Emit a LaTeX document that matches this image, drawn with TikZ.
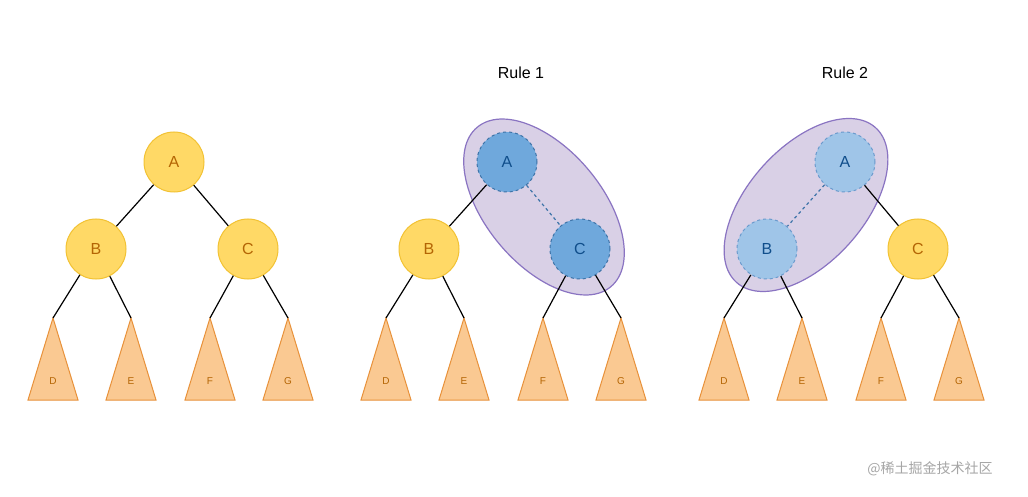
\documentclass[tikz,border=0pt]{standalone}
\usepackage{fontspec}
\setmainfont{Liberation Sans}
\newfontfamily\cjk{Noto Sans CJK SC}
\begin{document}
\begin{tikzpicture}[x=1pt,y=-1pt,
  yel/.style={circle,minimum size=60pt,inner sep=0pt,fill=yfill,draw=ystroke,line width=1pt,text=ytext,font=\fontsize{16}{16}\selectfont},
  bluedark/.style={circle,minimum size=60pt,inner sep=0pt,fill=bdark,draw=bstroke,line width=1pt,dashed,text=btext,font=\fontsize{16}{16}\selectfont},
  bluelight/.style={circle,minimum size=60pt,inner sep=0pt,fill=blight,draw=bstroke2,line width=1pt,dashed,text=btext,font=\fontsize{16}{16}\selectfont},
  tri/.style={fill=tfill,draw=tstroke,line width=1pt,line join=miter},
  edge/.style={line width=1.2pt,black},
  dedge/.style={line width=1.2pt,bstroke,dashed},
  blob/.style={fill=pfill,draw=pstroke,line width=1.2pt},
  tlab/.style={text=ytext,font=\fontsize{10}{10}\selectfont},
  rule/.style={font=\fontsize{16}{16}\selectfont}]
\definecolor{yfill}{HTML}{FFD966}
\definecolor{ystroke}{HTML}{F2C233}
\definecolor{ytext}{HTML}{B46504}
\definecolor{tfill}{HTML}{FAC992}
\definecolor{tstroke}{HTML}{E8913A}
\definecolor{bdark}{HTML}{6FA8DC}
\definecolor{blight}{HTML}{9FC5E8}
\definecolor{bstroke}{HTML}{3D73A8}
\definecolor{bstroke2}{HTML}{6A9ACD}
\definecolor{btext}{HTML}{104E8B}
\definecolor{pfill}{HTML}{D9D0E6}
\definecolor{pstroke}{HTML}{8A74C2}
\useasboundingbox (0,0) rectangle (1028,497);
\fill[white] (0,0) rectangle (1028,497);
% blobs
\draw[blob] (544,207) ellipse[x radius=104, y radius=58, rotate=-50];
\draw[blob] (806,205) ellipse[x radius=104, y radius=58, rotate=48];
% titles
\node[rule] (r1) at (521,73) {Rule 1};
\node[rule] (r2) at (845,73) {Rule 2};
% trees
\foreach \o/\t in {0/1,333/2,671/3}{
  \foreach \n/\x in {D/53,E/131,F/210,G/288}{
    \coordinate (\n\t) at (\o+\x,318);
    \draw[tri] (\n\t) -- ++(25,82) -- ++(-50,0) -- cycle;
    \node[tlab] (l\n\t) at (\o+\x,381) {\n};
  }
}
% tree 1
\node[yel] (A1) at (174,162) {A};
\node[yel] (B1) at (96,249) {B};
\node[yel] (C1) at (248,249) {C};
% tree 2
\node[bluedark] (A2) at (507,162) {A};
\node[yel] (B2) at (429,249) {B};
\node[bluedark] (C2) at (580,249) {C};
% tree 3
\node[bluelight] (A3) at (845,162) {A};
\node[bluelight] (B3) at (767,249) {B};
\node[yel] (C3) at (918,249) {C};
\foreach \t in {1,2,3}{
  \draw[edge] (B\t) -- (D\t);
  \draw[edge] (B\t) -- (E\t);
  \draw[edge] (C\t) -- (F\t);
  \draw[edge] (C\t) -- (G\t);
}
\draw[edge] (A1) -- (B1);
\draw[edge] (A1) -- (C1);
\draw[edge] (A2) -- (B2);
\draw[dedge] (A2) -- (C2);
\draw[dedge] (A3) -- (B3);
\draw[edge] (A3) -- (C3);
\node[text=gray!70,font=\cjk\fontsize{14}{14}\selectfont] (wm) at (930,469) {@稀土掘金技术社区};
\end{tikzpicture}
\end{document}
